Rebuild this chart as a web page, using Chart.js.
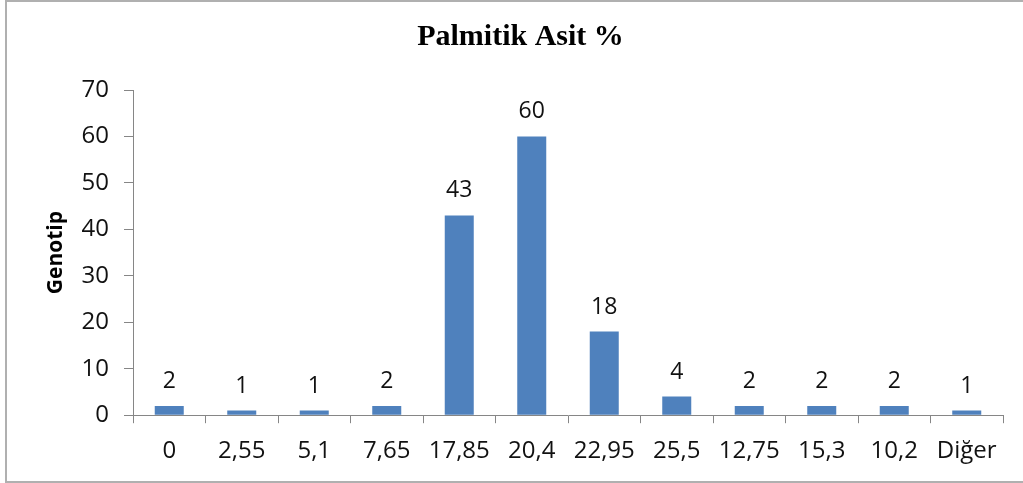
<!DOCTYPE html>
<html>
<head>
<meta charset="utf-8">
<script src="https://cdn.jsdelivr.net/npm/chart.js@4/dist/chart.umd.min.js"></script>
<style>
  html, body { margin: 0; padding: 0; background: #fff; }
  #wrap { position: relative; width: 1023px; height: 483px; overflow: hidden; }
  #frame { position: absolute; left: 5px; top: 0px; width: 1030px; height: 479px;
           border: 2px solid #b0b0b0; box-sizing: content-box; pointer-events: none; }
  canvas { position: absolute; left: 0; top: 0; }
</style>
</head>
<body>
<div id="wrap">
  <canvas id="c" width="1023" height="483"></canvas>
  <div id="frame"></div>
</div>
<script>
const categories = ["0", "2,55", "5,1", "7,65", "17,85", "20,4", "22,95", "25,5", "12,75", "15,3", "10,2", "Diğer"];
const genotipCounts = [2, 1, 1, 2, 43, 60, 18, 4, 2, 2, 2, 1];
const yTicks = [0, 10, 20, 30, 40, 50, 60, 70];
const chartTitle = "Palmitik Asit %";
const yTitle = "Genotip";

const sansFont = "'Open Sans', 'Liberation Sans', sans-serif";

const valueLabels = {
  id: 'valueLabels',
  afterDatasetsDraw(chart) {
    const ctx = chart.ctx;
    const meta = chart.getDatasetMeta(0);
    ctx.save();
    ctx.font = "23px " + sansFont;
    ctx.fillStyle = "#111";
    ctx.textAlign = "center";
    ctx.textBaseline = "alphabetic";
    meta.data.forEach((bar, i) => {
      ctx.fillText(String(genotipCounts[i]), bar.x, bar.y - 18);
    });
    ctx.restore();
  }
};

new Chart(document.getElementById('c'), {
  type: 'bar',
  data: {
    labels: categories,
    datasets: [{
      data: genotipCounts,
      backgroundColor: '#4F81BD',
      borderWidth: 0,
      barPercentage: 0.4,
      categoryPercentage: 1.0
    }]
  },
  options: {
    responsive: false,
    animation: false,
    layout: { padding: { left: 38, right: 20, top: 0, bottom: 3 } },
    plugins: {
      legend: { display: false },
      tooltip: { enabled: false },
      title: {
        display: true,
        text: chartTitle,
        color: '#000',
        font: { family: "'Liberation Serif', 'Times New Roman', serif", size: 30, weight: 'bold' },
        padding: { top: 19, bottom: 35 }
      }
    },
    scales: {
      x: {
        grid: { drawOnChartArea: false, drawTicks: true, tickLength: 8, color: '#868686' },
        border: { color: '#868686', width: 1 },
        ticks: { color: '#111', font: { family: sansFont, size: 24 }, padding: 14, maxRotation: 0, autoSkip: false }
      },
      y: {
        min: 0, max: 70,
        afterBuildTicks(scale) { scale.ticks = yTicks.map(v => ({ value: v })); },
        afterFit(scale) { scale.width = 133 - 38; },
        grid: { drawOnChartArea: false, drawTicks: true, tickLength: 9, color: '#868686' },
        border: { color: '#868686', width: 1 },
        ticks: { color: '#111', font: { family: sansFont, size: 24 }, padding: 15 },
        title: {
          display: true, text: yTitle, color: '#000',
          font: { family: sansFont, size: 21, weight: 'bold' },
          padding: { top: 5, bottom: 0 }
        }
      }
    }
  },
  plugins: [valueLabels]
});
</script>
</body>
</html>
